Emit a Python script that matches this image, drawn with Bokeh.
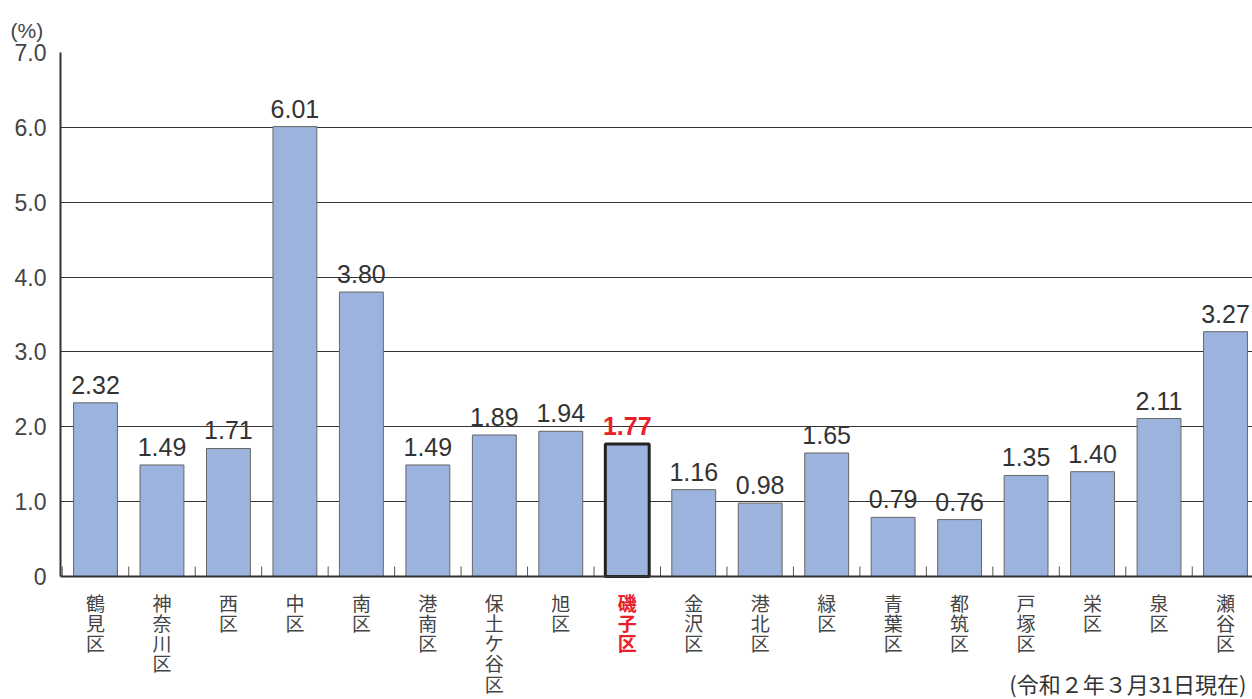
from bokeh.plotting import figure
from bokeh.models import ColumnDataSource, FixedTicker, Range1d, Span
from bokeh.core.properties import value
from bokeh.embed import file_html
from bokeh.resources import INLINE

wards = ["鶴見区", "神奈川区", "西区", "中区", "南区", "港南区", "保土ケ谷区", "旭区", "磯子区",
         "金沢区", "港北区", "緑区", "青葉区", "都筑区", "戸塚区", "栄区", "泉区", "瀬谷区"]
rates = [2.32, 1.49, 1.71, 6.01, 3.80, 1.49, 1.89, 1.94, 1.77,
         1.16, 0.98, 1.65, 0.79, 0.76, 1.35, 1.40, 2.11, 3.27]
highlight = "磯子区"
y_ticks = [0, 1, 2, 3, 4, 5, 6, 7]
y_tick_labels = ["0", "1.0", "2.0", "3.0", "4.0", "5.0", "6.0", "7.0"]
unit_text = "(%)"
note_text = "(令和２年３月31日現在)"

JP = "Noto Sans CJK JP"
NUM = "Liberation Sans"
BAR = "#9CB3DE"
RED = "#E8202A"

idx = list(range(len(wards)))
hi = wards.index(highlight)
is_hi = [w == highlight for w in wards]
src = ColumnDataSource(dict(
    x=idx, top=rates, zero=[0] * len(idx),
    label=[f"{v:.2f}" for v in rates],
    name=["\n".join(w) for w in wards],
    color=[RED if h else "#333333" for h in is_hi],
    name_color=[RED if h else "#444444" for h in is_hi],
    style=["bold" if h else "normal" for h in is_hi],
))
hsrc = ColumnDataSource(dict(x=[hi], top=[rates[hi]]))

px_per_unit = 524 / 7.0
y_lo = -(699 - 576) / px_per_unit
x_step = 66.47
x_lo = -35 / x_step
x_hi = x_lo + 1192 / x_step

p = figure(width=1252, height=699, output_backend="svg", toolbar_location=None,
           x_range=Range1d(x_lo, x_hi), y_range=Range1d(y_lo, 7),
           x_axis_location=None,
           min_border_left=60, min_border_right=0, min_border_top=52, min_border_bottom=0)
p.outline_line_color = None

p.xgrid.visible = False
p.ygrid.ticker = FixedTicker(ticks=y_ticks)
p.ygrid.grid_line_color = "#333333"
p.ygrid.grid_line_width = 1
p.ygrid.level = "underlay"

p.vbar(x="x", top="top", width=0.66, source=src, fill_color=BAR, line_color="#666666", line_width=1)
p.vbar(x="x", top="top", width=0.66, source=hsrc, fill_color=BAR, line_color="#222222", line_width=3)

# value labels
p.text(x="x", y="top", text="label", source=src, text_align="center", text_baseline="bottom",
       y_offset=-9, text_font=value(NUM), text_font_size="25px", text_color="color",
       text_font_style="style")

# x axis line and separator ticks
p.add_layout(Span(location=0, dimension="width", line_color="#333333", line_width=2))
tick_len = 10 / px_per_unit
bounds = [i - 0.5 for i in idx] + [len(idx) - 0.5]
p.segment(x0=bounds, y0=[0] * len(bounds), x1=bounds, y1=[tick_len] * len(bounds),
          line_color="#555555", line_width=1)

# category labels (vertical)
p.text(x="x", y="zero", text="name", source=src, text_align="center", text_baseline="top",
       y_offset=12, text_font=value(JP), text_font_size="19px", text_color="name_color",
       text_font_style="style", text_line_height=0.75)

# footnote
p.text(x=[x_hi], y=[y_lo], text=[note_text], text_align="right", text_baseline="bottom",
       x_offset=-6, y_offset=-1, text_font=value(JP), text_font_size="22px", text_color="#333333")

ya = p.yaxis[0]
ya.ticker = FixedTicker(ticks=y_ticks)
ya.bounds = (0, 7)
ya.major_label_overrides = {t: l for t, l in zip(y_ticks, y_tick_labels)}
ya.axis_line_width = 2
ya.axis_line_color = "#333333"
ya.major_tick_line_color = None
ya.minor_tick_line_color = None
ya.major_label_text_font = NUM
ya.major_label_text_font_size = "23px"
ya.major_label_text_color = "#444444"
ya.major_label_standoff = 8

p.title.text = unit_text
p.title.align = "left"
p.title.offset = -50
p.title.standoff = 22
p.title.text_font = NUM
p.title.text_font_size = "21px"
p.title.text_font_style = "normal"
p.title.text_color = "#444444"

open("out.html", "w").write(file_html(p, INLINE))
